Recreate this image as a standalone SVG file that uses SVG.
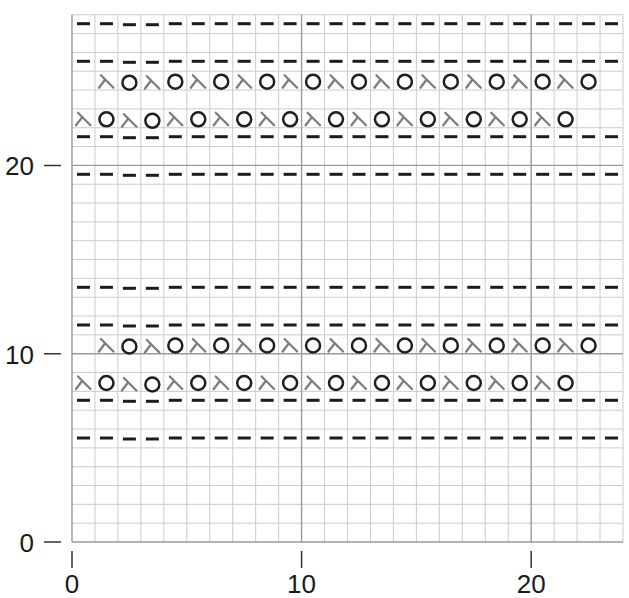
<svg xmlns="http://www.w3.org/2000/svg" xmlns:xlink="http://www.w3.org/1999/xlink" width="629" height="598" viewBox="0 0 629 598">
<style>
.thin{stroke:#cbcbcb;stroke-width:1;fill:none}
.bold{stroke:#9a9a9a;stroke-width:1.4;fill:none}
.tick{stroke:#333;stroke-width:1.5;fill:none}
.dash{stroke:#1c1c1c;stroke-width:3;stroke-linecap:butt}
.lam{stroke:#7d7d7d;stroke-width:2.3;fill:none;stroke-linecap:round}
.ring{stroke:#1f1f1f;stroke-width:2.5;fill:none}
text{font-family:"Liberation Sans",Arial,sans-serif;font-size:26px;fill:#1a1a1a}
</style>
<defs>
<path id="d" class="dash" d="M-6.5 0H6.5"/>
<path id="k" class="lam" d="M-5.5 -6.5L7 6M-1.2 -2.2L-7.5 6"/>
<circle id="o" class="ring" r="7"/>
<g id="dashes">
<use xlink:href="#d" x="83.48" y="0"/><use xlink:href="#d" x="106.44" y="0"/><use xlink:href="#d" x="129.4" y="1"/><use xlink:href="#d" x="152.35" y="1"/><use xlink:href="#d" x="175.31" y="0"/><use xlink:href="#d" x="198.27" y="0"/><use xlink:href="#d" x="221.23" y="0"/><use xlink:href="#d" x="244.19" y="0"/><use xlink:href="#d" x="267.15" y="0"/><use xlink:href="#d" x="290.1" y="0"/><use xlink:href="#d" x="313.06" y="0"/><use xlink:href="#d" x="336.02" y="0"/><use xlink:href="#d" x="358.98" y="0"/><use xlink:href="#d" x="381.94" y="0"/><use xlink:href="#d" x="404.9" y="0"/><use xlink:href="#d" x="427.85" y="0"/><use xlink:href="#d" x="450.81" y="0"/><use xlink:href="#d" x="473.77" y="0"/><use xlink:href="#d" x="496.73" y="0"/><use xlink:href="#d" x="519.69" y="0"/><use xlink:href="#d" x="542.65" y="0"/><use xlink:href="#d" x="565.6" y="0"/><use xlink:href="#d" x="588.56" y="0"/><use xlink:href="#d" x="611.52" y="0"/>
</g>
<g id="laceA">
<use xlink:href="#k" x="83.48" y="0"/><use xlink:href="#o" x="106.44" y="0"/><use xlink:href="#k" x="129.4" y="1.5"/><use xlink:href="#o" x="152.35" y="1.5"/><use xlink:href="#k" x="175.31" y="0"/><use xlink:href="#o" x="198.27" y="0"/><use xlink:href="#k" x="221.23" y="0"/><use xlink:href="#o" x="244.19" y="0"/><use xlink:href="#k" x="267.15" y="0"/><use xlink:href="#o" x="290.1" y="0"/><use xlink:href="#k" x="313.06" y="0"/><use xlink:href="#o" x="336.02" y="0"/><use xlink:href="#k" x="358.98" y="0"/><use xlink:href="#o" x="381.94" y="0"/><use xlink:href="#k" x="404.9" y="0"/><use xlink:href="#o" x="427.85" y="0"/><use xlink:href="#k" x="450.81" y="0"/><use xlink:href="#o" x="473.77" y="0"/><use xlink:href="#k" x="496.73" y="0"/><use xlink:href="#o" x="519.69" y="0"/><use xlink:href="#k" x="542.65" y="0"/><use xlink:href="#o" x="565.6" y="0"/>
</g>
<g id="laceB">
<use xlink:href="#k" x="106.44" y="0"/><use xlink:href="#o" x="129.4" y="1"/><use xlink:href="#k" x="152.35" y="1"/><use xlink:href="#o" x="175.31" y="0"/><use xlink:href="#k" x="198.27" y="0"/><use xlink:href="#o" x="221.23" y="0"/><use xlink:href="#k" x="244.19" y="0"/><use xlink:href="#o" x="267.15" y="0"/><use xlink:href="#k" x="290.1" y="0"/><use xlink:href="#o" x="313.06" y="0"/><use xlink:href="#k" x="336.02" y="0"/><use xlink:href="#o" x="358.98" y="0"/><use xlink:href="#k" x="381.94" y="0"/><use xlink:href="#o" x="404.9" y="0"/><use xlink:href="#k" x="427.85" y="0"/><use xlink:href="#o" x="450.81" y="0"/><use xlink:href="#k" x="473.77" y="0"/><use xlink:href="#o" x="496.73" y="0"/><use xlink:href="#k" x="519.69" y="0"/><use xlink:href="#o" x="542.65" y="0"/><use xlink:href="#k" x="565.6" y="0"/><use xlink:href="#o" x="588.56" y="0"/>
</g>
</defs>
<rect width="629" height="598" fill="#fff"/>
<g id="grid">
<path class="thin" d="M72 14.76H623M72 33.59H623M72 52.42H623M72 71.25H623M72 90.08H623M72 108.91H623M72 127.74H623M72 146.57H623M72 184.23H623M72 203.06H623M72 221.89H623M72 240.72H623M72 259.55H623M72 278.38H623M72 297.21H623M72 316.04H623M72 334.87H623M72 372.53H623M72 391.36H623M72 410.19H623M72 429.02H623M72 447.85H623M72 466.68H623M72 485.51H623M72 504.34H623M72 523.17H623"/>
<path class="thin" d="M94.96 14.76V542M117.92 14.76V542M140.87 14.76V542M163.83 14.76V542M186.79 14.76V542M209.75 14.76V542M232.71 14.76V542M255.67 14.76V542M278.63 14.76V542M324.54 14.76V542M347.5 14.76V542M370.46 14.76V542M393.42 14.76V542M416.38 14.76V542M439.33 14.76V542M462.29 14.76V542M485.25 14.76V542M508.21 14.76V542M554.13 14.76V542M577.08 14.76V542M600.04 14.76V542M623 14.76V542"/>
<path class="bold" d="M72 165.4H623M72 353.7H623M72 542H623M72 14.76V542M301.58 14.76V542M531.17 14.76V542"/>
</g>
<g id="axes">
<path class="tick" d="M44 165.4H61M44 353.7H61M44 542H61M72 551V568M301.58 551V568M531.17 551V568"/>
<text x="34" y="175" text-anchor="end">20</text>
<text x="34" y="363.5" text-anchor="end">10</text>
<text x="34" y="551.5" text-anchor="end">0</text>
<text x="72" y="593" text-anchor="middle">0</text>
<text x="301.58" y="593" text-anchor="middle">10</text>
<text x="531.17" y="593" text-anchor="middle">20</text>
</g>
<g id="purlrows">
<use id="row6" xlink:href="#dashes" y="438"/>
<use id="row8" xlink:href="#dashes" y="400.3"/>
<use id="row12" xlink:href="#dashes" y="325"/>
<use id="row14" xlink:href="#dashes" y="287.3"/>
<use id="row20" xlink:href="#dashes" y="174.3"/>
<use id="row22" xlink:href="#dashes" y="136.7"/>
<use id="row26" xlink:href="#dashes" y="61.3"/>
<use id="row28" xlink:href="#dashes" y="23.7"/>
</g>
<g id="lacerows">
<use id="row9" xlink:href="#laceA" y="383"/>
<use id="row11" xlink:href="#laceB" y="345.5"/>
<use id="row23" xlink:href="#laceA" y="119.3"/>
<use id="row25" xlink:href="#laceB" y="81.7"/>
</g>
</svg>
